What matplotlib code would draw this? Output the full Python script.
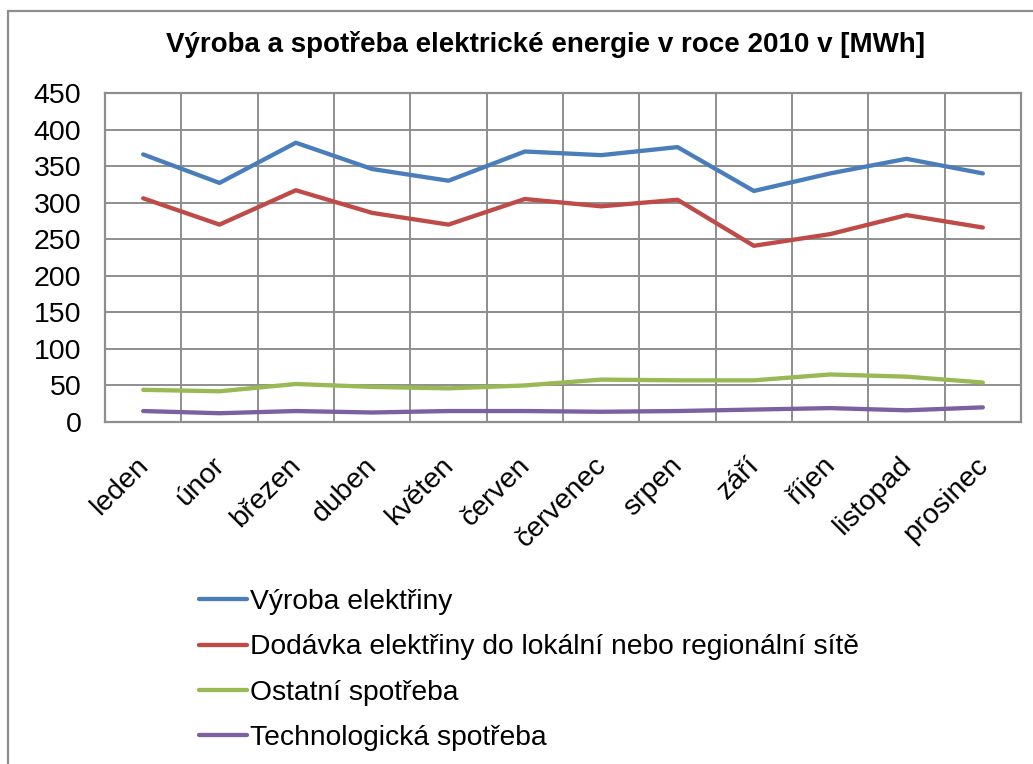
import matplotlib
matplotlib.use('Agg')
import matplotlib.pyplot as plt
import matplotlib.transforms as mtransforms
from matplotlib.patches import Rectangle

# data
months = ['leden', 'únor', 'březen', 'duben', 'květen', 'červen',
          'červenec', 'srpen', 'září', 'říjen', 'listopad', 'prosinec']
vyroba = [366, 327, 382, 346, 330, 370, 365, 376, 316, 340, 360, 340]
dodavka = [306, 270, 317, 286, 270, 305, 295, 304, 241, 257, 283, 266]
ostatni = [44, 42, 52, 48, 46, 50, 58, 57, 57, 65, 62, 54]
technologicka = [15, 12, 15, 13, 15, 15, 14, 15, 17, 19, 16, 20]

labels = ['Výroba elektřiny',
          'Dodávka elektřiny do lokální nebo regionální sítě',
          'Ostatní spotřeba',
          'Technologická spotřeba']
colors = ['#4a7ebb', '#be4b48', '#98b954', '#7d60a0']
yticks = [0, 50, 100, 150, 200, 250, 300, 350, 400, 450]

plt.rcParams['font.family'] = ['Liberation Sans', 'DejaVu Sans']

fig = plt.figure(figsize=(10.33, 7.64), dpi=100)
ax = fig.add_axes([105 / 1033, 1 - 422 / 764, (1021 - 105) / 1033, (422 - 93) / 764])

x = list(range(len(months)))
for series, lab, col in zip([vyroba, dodavka, ostatni, technologicka], labels, colors):
    ax.plot(x, series, color=col, lw=3.1, label=lab, solid_capstyle='round')

ax.set_xlim(-0.5, len(months) - 0.5)
ax.set_ylim(0, 450)
ax.set_yticks(yticks)
ax.set_yticklabels([str(v) for v in yticks], fontsize=20.5)
ax.set_xticks(x)
ax.set_xticklabels(months, fontsize=20.5, rotation=45, ha='right', rotation_mode='anchor')
ax.set_xticks([i + 0.5 for i in x[:-1]], minor=True)
ax.tick_params(axis='both', which='both', length=0)
ax.tick_params(axis='y', pad=17)
ax.tick_params(axis='x', pad=24)

# nudge the rotated month labels a bit left
shift = mtransforms.ScaledTranslation(-8 / 100, 3 / 100, fig.dpi_scale_trans)
for lbl in ax.get_xticklabels():
    lbl.set_transform(lbl.get_transform() + shift)

ax.grid(True, axis='y', which='major', color='#8e8e8e', lw=1.4)
ax.grid(True, axis='x', which='minor', color='#8e8e8e', lw=1.4)
ax.set_axisbelow(True)
for s in ax.spines.values():
    s.set_color('#8e8e8e')
    s.set_linewidth(1.6)

fig.text(546 / 1033, 1 - 45 / 764, 'Výroba a spotřeba elektrické energie v roce 2010 v [MWh]',
         ha='center', va='center', fontsize=20, fontweight='bold')

fig.legend(loc='upper left', bbox_to_anchor=(199 / 1033, 1 - 589 / 764), frameon=False,
           borderpad=0, borderaxespad=0, handlelength=1.7, handletextpad=0.12,
           labelspacing=0.69, fontsize=20.3)

fig.patches.append(Rectangle((8 / 1033, -0.1), 2, 1 - 11 / 764 + 0.1, transform=fig.transFigure,
                             fill=False, edgecolor='#8e8e8e', lw=1.6))

fig.savefig('out.png', dpi=100)
